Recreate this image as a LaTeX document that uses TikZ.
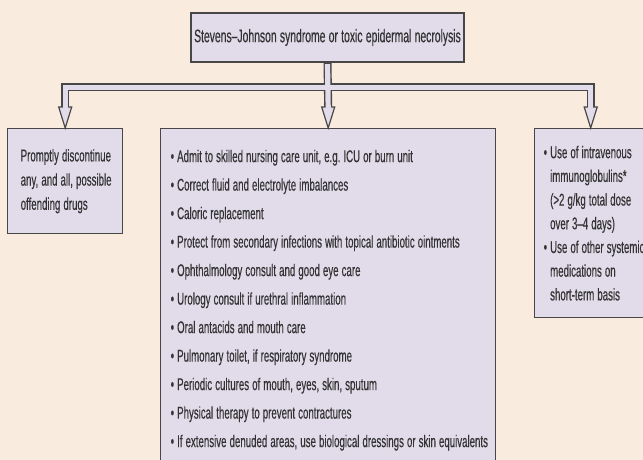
\documentclass[tikz,border=0pt]{standalone}
\usepackage{fontspec}
\setmainfont[FakeStretch=0.57, FakeBold=0.35]{Liberation Sans}
\frenchspacing
\newcommand\tightsp{\spaceskip=0.18em plus 0.05em minus 0.02em\xspaceskip=0.18em\relax}
\usetikzlibrary{calc}
\definecolor{bg}{HTML}{F9EBDD}
\definecolor{lav}{HTML}{E2DCEA}
\definecolor{edge}{HTML}{474747}
\definecolor{ink}{HTML}{333333}
\begin{document}
\begin{tikzpicture}[x=1pt,y=-1pt,
  box/.style={draw=edge, line width=1.4pt, fill=lav, text=ink, align=left, inner ysep=0pt},
  pipeout/.style={draw=edge, line width=8pt, line join=miter},
  pipein/.style={draw=lav, line width=5.2pt, line join=miter},
  head/.style={draw=edge, fill=lav, line width=1.2pt, line join=miter}]
\fill[bg] (0,0) rectangle (643,460);
\useasboundingbox (0,0) rectangle (643,460);
\clip (0,0) rectangle (643,460);

\node[box, align=center, minimum width=271, minimum height=49,
      font=\fontsize{18.2}{20}\selectfont] (top) at (327.5,37.5)
  {\tightsp Stevens–Johnson syndrome or toxic epidermal necrolysis};

\node[box, anchor=north west, text width=89, inner xsep=13, minimum height=105,
      font=\fontsize{17}{24.2}\selectfont] (left) at (7,128)
  {\tightsp\mbox{Promptly discontinue}\\ \mbox{any, and all, possible}\\ \mbox{offending drugs}};

\node[box, anchor=north west, text width=315, inner xsep=10, minimum height=343,
      font=\fontsize{17}{28.5}\selectfont] (mid) at (160,128)
  {\tightsp\mbox{• Admit to skilled nursing care unit, e.g. ICU or burn unit}\\
   \mbox{• Correct fluid and electrolyte imbalances}\\
   \mbox{• Caloric replacement}\\
   \mbox{• Protect from secondary infections with topical antibiotic ointments}\\
   \mbox{• Ophthalmology consult and good eye care}\\
   \mbox{• Urology consult if urethral inflammation}\\
   \mbox{• Oral antacids and mouth care}\\
   \mbox{• Pulmonary toilet, if respiratory syndrome}\\
   \mbox{• Periodic cultures of mouth, eyes, skin, sputum}\\
   \mbox{• Physical therapy to prevent contractures}\\
   \mbox{• If extensive denuded areas, use biological dressings or skin equivalents}};

\node[box, anchor=north west, text width=94, inner xsep=9, minimum height=189,
      font=\fontsize{17}{23.7}\selectfont] (right) at (534,128)
  {\tightsp\mbox{• Use of intravenous}\\
   \mbox{\phantom{• }immunoglobulins*}\\
   \mbox{\phantom{• }(>2 g/kg total dose}\\
   \mbox{\phantom{• }over 3–4 days)}\\
   \mbox{• Use of other systemic}\\
   \mbox{\phantom{• }medications on}\\
   \mbox{\phantom{• }short-term basis}};

\coordinate (band) at (0,87.5);
\coordinate (bl) at (left.north |- band);
\coordinate (br) at (right.north |- band);
\coordinate (hleft) at ([yshift=21pt]left.north);
\coordinate (hmid) at ([yshift=21pt]mid.north);
\coordinate (hright) at ([yshift=21pt]right.north);

\draw[pipeout] (hleft) -- (bl) -- (br) -- (hright);
\draw[pipeout] (top.south) -- (hmid);
\foreach \n in {left,mid,right}{
  \draw[head] ([xshift=-6.5pt]h\n) -- ([xshift=6.5pt]h\n) -- (\n.north) -- cycle;
}
\draw[pipein] ([yshift=-1.2pt]hleft) -- (bl) -- (br) -- ([yshift=-1.2pt]hright);
\draw[pipein] ([yshift=-1.4pt]top.south) -- ([yshift=-1.2pt]hmid);
\end{tikzpicture}
\end{document}
